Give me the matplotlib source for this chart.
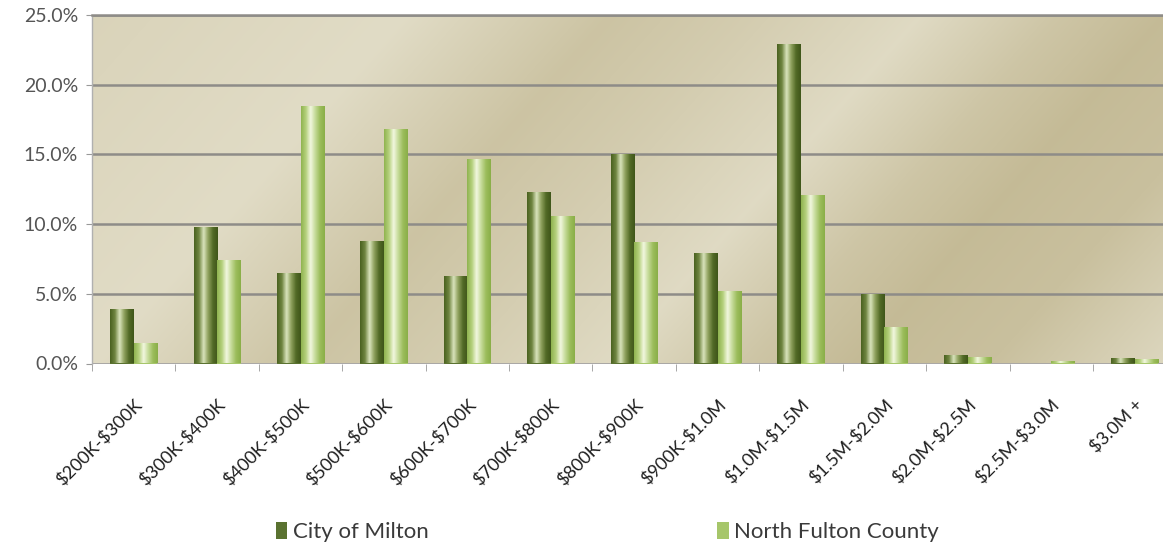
import numpy as np
import matplotlib
matplotlib.use("Agg")
import matplotlib.pyplot as plt
from matplotlib.colors import LinearSegmentedColormap, to_rgb
from matplotlib.patches import Patch

# Share of home sales by price band (%)
categories = ["$200K-$300K", "$300K-$400K", "$400K-$500K", "$500K-$600K",
              "$600K-$700K", "$700K-$800K", "$800K-$900K", "$900K-$1.0M",
              "$1.0M-$1.5M", "$1.5M-$2.0M", "$2.0M-$2.5M", "$2.5M-$3.0M",
              "$3.0M +"]
milton = [3.9, 9.8, 6.5, 8.8, 6.3, 12.3, 15.0, 7.9, 22.9, 5.0, 0.6, 0.0, 0.4]
north_fulton = [1.5, 7.4, 18.5, 16.8, 14.7, 10.6, 8.7, 5.2, 12.1, 2.6, 0.5, 0.2, 0.3]
series_names = ["City of Milton", "North Fulton County"]
yticks = [0, 5, 10, 15, 20, 25]

plt.rcParams["font.family"] = ["Lato", "DejaVu Sans"]

fig = plt.figure(figsize=(11.63, 5.42), dpi=100)
fig.patch.set_facecolor("white")
ax = fig.add_axes([92 / 1163, 1 - 363.5 / 542, 1 - 92 / 1163, (363.5 - 15) / 542])

# Plot-area background: diagonal tan gradient with soft light streaks
h, w = 200, 600
yy, xx = np.mgrid[0:h, 0:w]
u = xx / w * 3.1 + (1 - yy / h) * -0.9  # diagonal coordinate
stops_u = [-0.9, 0.0, 0.6, 1.0, 1.5, 1.9, 2.2, 2.6, 3.1]
stops_v = [0.75, 1.0, 0.3, 0.55, 0.95, 0.35, 0.05, 0.2, 0.85]
v = np.interp(u, stops_u, stops_v)
c_dark = np.array(to_rgb("#c3b994"))
c_light = np.array(to_rgb("#e1dcc6"))
bg = c_dark[None, None, :] * (1 - v[..., None]) + c_light[None, None, :] * v[..., None]
ax.imshow(bg, extent=(0, 1, 0, 1), transform=ax.transAxes, aspect="auto",
          zorder=0, interpolation="bilinear")

x = np.arange(len(categories))
bw = 0.283
dark_cmap = LinearSegmentedColormap.from_list(
    "dark", ["#4a6220", "#6f8540", "#d9e3bc", "#8da05c", "#526a26", "#3f561a"])
light_cmap = LinearSegmentedColormap.from_list(
    "light", ["#90b450", "#b5d07c", "#f2f7df", "#c5da98", "#9cbd5c", "#8aae48"])

bars1 = ax.bar(x - bw / 2, milton, bw, color="#5a7230", zorder=3, linewidth=0)
bars2 = ax.bar(x + bw / 2, north_fulton, bw, color="#a6c66a", zorder=3, linewidth=0)

# Cylinder-style shading on each bar
grad = np.linspace(0, 1, 64)[None, :]
for bars, cmap in ((bars1, dark_cmap), (bars2, light_cmap)):
    for b in bars:
        if b.get_height() <= 0:
            continue
        x0, y0 = b.get_x(), b.get_y()
        im = ax.imshow(grad, cmap=cmap, aspect="auto", zorder=4,
                       extent=(x0, x0 + b.get_width(), y0, y0 + b.get_height()),
                       interpolation="bilinear")
        im.set_clip_path(b)

ax.set_yticks(yticks)
ax.set_yticklabels([f"{t:.1f}%" for t in yticks], fontsize=14, color="#555555")
ax.yaxis.grid(True, color="#8e8c88", linewidth=1.8, zorder=1)
ax.set_axisbelow(True)

ax.set_xticks(x)
ax.set_xticklabels([c.replace("$", r"\$") for c in categories], rotation=45,
                   ha="right", rotation_mode="anchor", fontsize=13, color="#1e1e1e")
ax.tick_params(axis="x", length=0, pad=24)
ax.set_xticks(np.arange(len(categories) + 1) - 0.5, minor=True)
ax.tick_params(axis="x", which="minor", length=5, color="#999999", direction="out")
ax.tick_params(axis="y", length=4, color="#999999", direction="out", pad=6)

# Limits last so tick placement does not widen the view
ax.set_xlim(-0.5, 12.34)
ax.set_ylim(0, 25)

for s in ("right", "bottom"):
    ax.spines[s].set_visible(False)
ax.spines["top"].set_color("#8e8c88")
ax.spines["top"].set_linewidth(1.8)
ax.spines["left"].set_color("#b0b0b0")
ax.spines["left"].set_linestyle((0, (2, 1)))
ax.spines["left"].set_linewidth(1.0)

handles = [Patch(facecolor="#5a7230", edgecolor="none"),
           Patch(facecolor="#a6c66a", edgecolor="none")]
fig.legend(handles, series_names, loc="center", ncol=2,
           bbox_to_anchor=(0.5224, 0.018), frameon=False, fontsize=16,
           handlelength=0.5, handleheight=0.75, handletextpad=0.25,
           columnspacing=13.0, labelcolor="#3a3a3a")

fig.savefig("out.png", dpi=100, facecolor="white")
